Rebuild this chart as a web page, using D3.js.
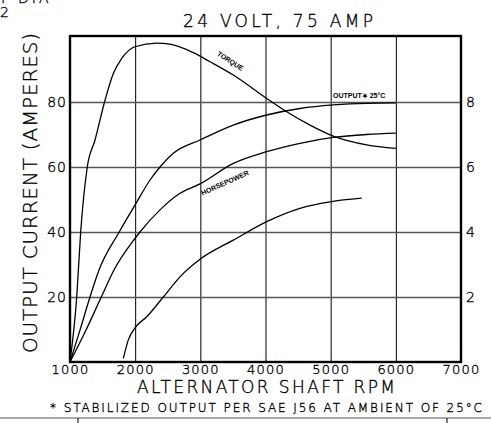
<!DOCTYPE html>
<html lang="en">
<head>
    <meta charset="UTF-8">
    <title>24 Volt 75 Amp alternator</title>
    <script src="https://d3js.org/d3.v7.min.js"></script>
    <style>
        body { margin: 0; background: #fff; }
        svg { display: block; }
        .cad { font-family: "DejaVu Sans", sans-serif; font-weight: 200; fill: #000; stroke: #000; stroke-width: 0.35px; }
        .curve { fill: none; stroke: #000; stroke-width: 1.3px; }
        .note { font-family: "Liberation Sans", Arial, sans-serif; font-weight: bold; font-size: 7px; fill: #000; }
    </style>
</head>
<body>
    <svg id="chart" width="491" height="423"></svg>

    <script>
        // 读图得到的数据 (rpm / 数值)
        const torqueRpm = [1000, 1103, 1164, 1265, 1384, 1530, 1665, 1793, 1997, 2330, 2534, 2892, 3148, 3506, 4018, 4325, 4683, 5040, 5553, 6000];
        const torqueVal = [0, 20, 40, 60, 68.3, 80, 88.8, 93.4, 97, 98.1, 97.8, 95.2, 92.4, 88.3, 81.1, 77, 72.9, 69.5, 66.8, 65.7];

        const outputRpm = [1000, 1153, 1307, 1445, 1755, 2013, 2228, 2381, 2585, 2995, 3506, 4018, 4529, 5040, 5553, 6000];
        const outputVal = [0, 9.8, 20, 28.3, 40, 48.8, 56, 60, 64.2, 68.3, 72.9, 76, 78, 79.1, 79.6, 79.7];

        const hpRpm = [1000, 1250, 1480, 1675, 1997, 2074, 2381, 2688, 2995, 3506, 4018, 4529, 5040, 5553, 6000];
        const hpVal = [0, 10, 20, 28.3, 38, 40, 46.8, 51.9, 54.8, 61.1, 64.7, 67.3, 69.1, 70, 70.4];

        const lowRpm = [1818, 1895, 2013, 2177, 2432, 2688, 2995, 3506, 4018, 4529, 4990, 5476];
        const lowVal = [1.1, 6.8, 10.9, 13.9, 20, 26.2, 31.6, 37.5, 43.2, 47.3, 49.3, 50.4];

        const xTicks = [1000, 2000, 3000, 4000, 5000, 6000, 7000];
        const yTicks = [20, 40, 60, 80];
        const hpTicks = [2, 4, 6, 8];

        const svg = d3.select("#chart");
        const mLeft = 70, mRight = 461, mTop = 37, mBottom = 362;

        const x = d3.scaleLinear().domain([1000, 7000]).range([mLeft, mRight]);
        const y = d3.scaleLinear().domain([0, 100]).range([mBottom, mTop]);
        const yHp = d3.scaleLinear().domain([0, 10]).range([mBottom, mTop]);

        // 网格线
        svg.append("g")
            .attr("transform", `translate(0,${mBottom})`)
            .call(d3.axisBottom(x).tickValues(xTicks.slice(1, -1)).tickSize(-(mBottom - mTop)).tickFormat(""))
            .call(g => g.select(".domain").remove())
            .call(g => g.selectAll("line").attr("stroke", "#000").attr("stroke-width", 1));

        svg.append("g")
            .attr("transform", `translate(${mLeft},0)`)
            .call(d3.axisLeft(y).tickValues(yTicks).tickSize(-(mRight - mLeft)).tickFormat(""))
            .call(g => g.select(".domain").remove())
            .call(g => g.selectAll("line").attr("stroke", "#555").attr("stroke-width", 1.4));

        // 边框
        svg.append("rect")
            .attr("x", mLeft).attr("y", mTop - 1)
            .attr("width", mRight - mLeft).attr("height", mBottom - mTop + 1)
            .attr("fill", "none").attr("stroke", "#000").attr("stroke-width", 2.4);

        // 刻度文字
        svg.append("g")
            .attr("transform", `translate(0,${mBottom})`)
            .call(d3.axisBottom(x).tickValues(xTicks).tickSize(0).tickPadding(3).tickFormat(d3.format("d")))
            .call(g => g.select(".domain").remove())
            .call(g => g.selectAll("text").attr("class", "cad").attr("font-size", 13)
                .attr("font-family", null).attr("letter-spacing", 1.2));

        svg.append("g")
            .attr("transform", `translate(${mLeft},0)`)
            .call(d3.axisLeft(y).tickValues(yTicks).tickSize(0).tickPadding(3))
            .call(g => g.select(".domain").remove())
            .call(g => g.selectAll("text").attr("class", "cad").attr("font-size", 14)
                .attr("font-family", null).attr("letter-spacing", 1));

        svg.append("g")
            .attr("transform", `translate(${mRight},0)`)
            .call(d3.axisRight(yHp).tickValues(hpTicks).tickSize(0).tickPadding(5))
            .call(g => g.select(".domain").remove())
            .call(g => g.selectAll("text").attr("class", "cad").attr("font-size", 14)
                .attr("font-family", null));

        // 曲线
        const line = d3.line().x(d => x(d[0])).y(d => y(d[1])).curve(d3.curveMonotoneX);
        const series = [
            d3.zip(torqueRpm, torqueVal),
            d3.zip(outputRpm, outputVal),
            d3.zip(hpRpm, hpVal),
            d3.zip(lowRpm, lowVal)
        ];
        svg.selectAll(".curve")
            .data(series)
            .enter().append("path")
            .attr("class", "curve")
            .attr("d", line);

        // 曲线标注
        svg.append("text").attr("class", "note")
            .attr("transform", "translate(229,63) rotate(33)")
            .attr("text-anchor", "middle").text("TORQUE");
        svg.append("text").attr("class", "note")
            .attr("transform", "translate(226,185) rotate(-24)")
            .attr("text-anchor", "middle").text("HORSEPOWER");
        svg.append("text").attr("class", "note")
            .attr("x", 333).attr("y", 98).attr("font-size", 7.5)
            .text("OUTPUT\u2217 25\u00b0C");

        // 标题与轴标题
        svg.append("text").attr("class", "cad")
            .attr("x", 183).attr("y", 27).attr("font-size", 17)
            .attr("textLength", 190).attr("lengthAdjust", "spacing")
            .text("24 VOLT, 75 AMP");

        svg.append("text").attr("class", "cad")
            .attr("transform", "translate(37,353) rotate(-90)")
            .attr("font-size", 20)
            .attr("textLength", 320).attr("lengthAdjust", "spacing")
            .text("OUTPUT CURRENT (AMPERES)");

        svg.append("text").attr("class", "cad")
            .attr("x", 137).attr("y", 393).attr("font-size", 17)
            .attr("textLength", 258).attr("lengthAdjust", "spacing")
            .text("ALTERNATOR SHAFT RPM");

        svg.append("text").attr("class", "cad")
            .attr("x", 50).attr("y", 412).attr("font-size", 12)
            .attr("textLength", 432).attr("lengthAdjust", "spacing")
            .text("* STABILIZED OUTPUT PER SAE J56 AT AMBIENT OF 25\u00b0C");

        // 左上角残留文字
        svg.append("text").attr("class", "cad")
            .attr("x", 1).attr("y", 3).attr("font-size", 14).text("I");
        svg.append("text").attr("class", "cad")
            .attr("x", 18).attr("y", 3).attr("font-size", 14)
            .attr("letter-spacing", 3).text("DIA");
        svg.append("text").attr("class", "cad")
            .attr("x", 0).attr("y", 17).attr("font-size", 14).text("2");

        // 底部边线
        svg.append("line").attr("x1", 0).attr("x2", 491).attr("y1", 418).attr("y2", 418)
            .attr("stroke", "#555").attr("stroke-width", 1.2);
        svg.append("line").attr("x1", 78).attr("x2", 78).attr("y1", 418).attr("y2", 423)
            .attr("stroke", "#000").attr("stroke-width", 1);
        svg.append("line").attr("x1", 447).attr("x2", 447).attr("y1", 418).attr("y2", 423)
            .attr("stroke", "#000").attr("stroke-width", 1);
    </script>
</body>
</html>
